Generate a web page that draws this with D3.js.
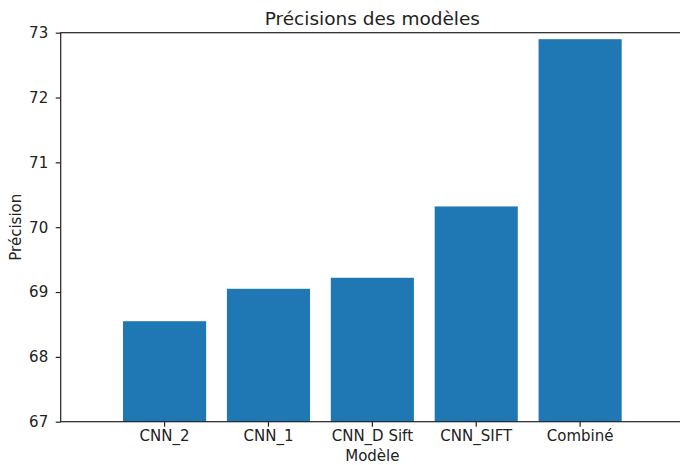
<!DOCTYPE html>
<html>
<head>
<meta charset="utf-8">
<script src="https://cdn.jsdelivr.net/npm/d3@7"></script>
<style>
  body { margin: 0; background: #fff; }
  text { font-family: "DejaVu Sans", sans-serif; fill: #222; }
</style>
</head>
<body>
<svg id="chart" width="680" height="465"></svg>
<script>
// data
const models = ["CNN_2", "CNN_1", "CNN_D Sift", "CNN_SIFT", "Combiné"];
const precisions = [68.55, 69.05, 69.22, 70.32, 72.90];
const yTicks = [67, 68, 69, 70, 71, 72, 73];

const margin = { top: 32.7, right: -4, bottom: 43.3, left: 60.7 };
const width = 680 - margin.left - margin.right;
const height = 465 - margin.top - margin.bottom;

const svg = d3.select("#chart")
    .append("g")
    .attr("transform", `translate(${margin.left},${margin.top})`);

const x = d3.scaleBand()
    .domain(models)
    .range([0, width])
    .paddingInner(0.2)
    .paddingOuter(0.6);

const y = d3.scaleLinear()
    .domain([67, 73])
    .range([height, 0]);

// bars
svg.selectAll(".bar")
    .data(models)
    .enter()
    .append("rect")
    .attr("class", "bar")
    .attr("x", d => x(d))
    .attr("y", (d, i) => y(precisions[i]))
    .attr("width", x.bandwidth())
    .attr("height", (d, i) => height - y(precisions[i]))
    .style("fill", "#1f77b4");

// frame (right spine falls outside the picture)
svg.append("rect")
    .attr("x", 0)
    .attr("y", 0)
    .attr("width", width)
    .attr("height", height)
    .style("fill", "none")
    .style("stroke", "#222")
    .style("stroke-width", 1.2);

// axes
const xAxis = d3.axisBottom(x).tickSize(5).tickPadding(4);
const yAxis = d3.axisLeft(y)
    .tickValues(yTicks)
    .tickFormat(d3.format("d"))
    .tickSize(5)
    .tickPadding(7.5);

const gx = svg.append("g")
    .attr("transform", `translate(0,${height})`)
    .call(xAxis);
const gy = svg.append("g").call(yAxis);

[gx, gy].forEach(g => {
    g.select(".domain").remove();
    g.selectAll(".tick line").style("stroke", "#222").style("stroke-width", 1.2);
    g.selectAll(".tick text")
        .style("font-family", "DejaVu Sans, sans-serif")
        .style("font-size", "15px")
        .style("fill", "#222");
});

// title and axis labels
svg.append("text")
    .attr("x", width / 2)
    .attr("y", -8)
    .attr("text-anchor", "middle")
    .style("font-size", "18.5px")
    .text("Précisions des modèles");

svg.append("text")
    .attr("x", width / 2)
    .attr("y", height + 39.5)
    .attr("text-anchor", "middle")
    .style("font-size", "15px")
    .text("Modèle");

svg.append("text")
    .attr("transform", `translate(${-margin.left + 21},${height / 2}) rotate(-90)`)
    .attr("text-anchor", "middle")
    .style("font-size", "15px")
    .text("Précision");
</script>
</body>
</html>
